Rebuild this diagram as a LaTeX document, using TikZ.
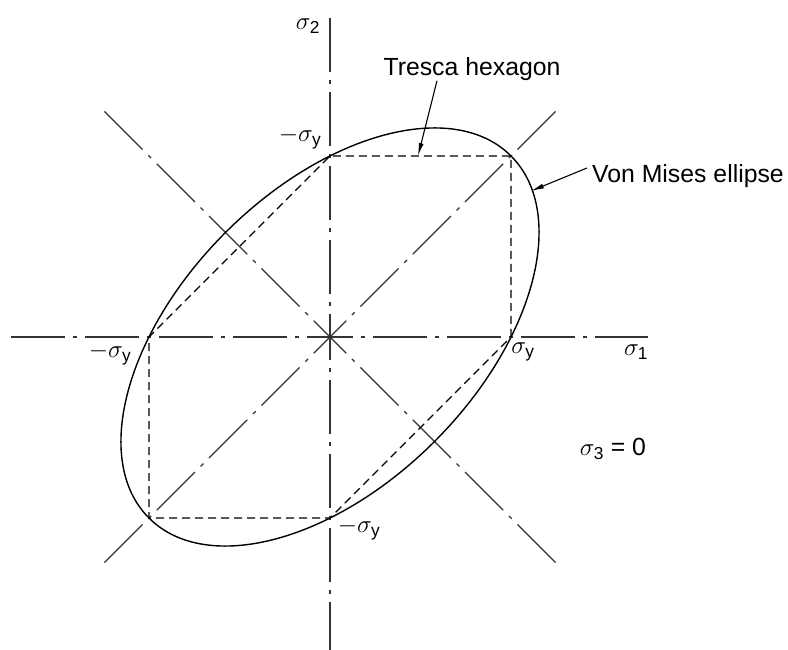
\documentclass[tikz,border=0pt]{standalone}
\usepackage{amsmath}
\usepackage{fontspec}
\setmainfont{Liberation Sans}
\usetikzlibrary{arrows.meta}

\tikzset{
  axisline/.style={line width=1.2pt, black!80, dash pattern=on 54pt off 8pt on 4pt off 8pt, dash phase=31pt},
  tresca/.style={line width=1.3pt, dash pattern=on 8pt off 5pt},
  vonmises/.style={line width=1.4pt},
  lbl/.style={inner sep=0pt, font=\fontsize{24.8}{30}\selectfont},
  pointer/.style={line width=1.1pt, -{Latex[length=13pt,width=5pt]}}
}

\begin{document}
\begin{tikzpicture}[x=1pt,y=1pt]

\useasboundingbox (-330,-313) rectangle (458,337);

\coordinate (O) at (0,0);

% axes
\foreach \n/\x/\y in {xr/318/0, xl/-322/0, yt/0/325, yb/0/-313,
  dr/226/226, dl/-226/-226, al/-226/226, ar/226/-226}{
\coordinate (\n) at (\x,\y);
\draw[axisline] (O) -- (\n);
}

% Tresca hexagon
\coordinate (A) at (181,0);
\coordinate (B) at (181,181);
\coordinate (C) at (0,181);
\coordinate (D) at (-181,0);
\coordinate (E) at (-181,-181);
\coordinate (F) at (0,-181);
\draw[tresca] (A) -- (B) -- (C) -- (D) -- (E) -- (F) -- cycle;

% von Mises ellipse
\draw[vonmises, rotate=45] (O) ellipse [x radius=256pt, y radius=147.8pt];

% labels
\node[lbl] (s2) at (-22,311) {$\sigma_{\text{2}}$};
\node[lbl] (s1) at (306,-15) {$\sigma_{\text{1}}$};
\node[lbl] (syt) at (-30,199) {$-\sigma_{\text{y}}$};
\node[lbl] (syl) at (-220,-17) {$-\sigma_{\text{y}}$};
\node[lbl] (syr) at (193,-15) {$\sigma_{\text{y}}$};
\node[lbl] (syb) at (29,-192) {$-\sigma_{\text{y}}$};
\node[lbl] (s3) at (283,-112) {$\sigma_{\text{3}}$ = 0};
\node[lbl] (trescalbl) at (142,268) {Tresca hexagon};
\node[lbl] (vmlbl) at (358,161) {Von Mises ellipse};

% pointers
\coordinate (tt) at (88,181);
\coordinate (vt) at (201,146);
\draw[pointer] ([xshift=-35pt]trescalbl.south) -- (tt);
\draw[pointer] ([shift={(-5pt,8pt)}]vmlbl.west) -- (vt);

\end{tikzpicture}
\end{document}
